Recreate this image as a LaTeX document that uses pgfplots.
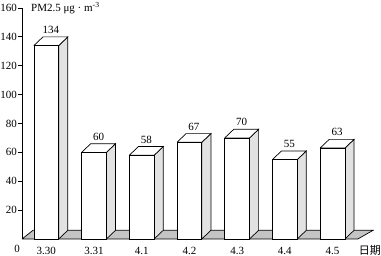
\documentclass[border=0pt]{standalone}
\usepackage{pgfplots}
\pgfplotsset{compat=1.18}
\usepackage{fontspec}
\setmainfont{Liberation Serif}
\newfontfamily\cjk{Noto Sans CJK SC}
\definecolor{floorc}{HTML}{C4C4C4}
\definecolor{sidec}{HTML}{E2E2E2}
\begin{document}
\begin{tikzpicture}
\useasboundingbox (0,0) rectangle (381pt,256pt);
\begin{axis}[
  at={(22pt,17pt)}, anchor=south west,
  scale only axis, width=353pt, height=231pt,
  xmin=-0.51, xmax=6.89, ymin=0, ymax=160,
  clip=false,
  axis y line*=left, axis x line*=bottom,
  x axis line style={draw=none},
  y axis line style={line width=0.8pt},
  xtick={0,...,6},
  xticklabels={3.30,3.31,4.1,4.2,4.3,4.4,4.5},
  xtick style={draw=none},
  ytick={20,40,...,160},
  tick align=outside, major tick length=4pt,
  ytick style={line width=0.8pt, black},
  /pgf/number format/assume math mode=true,
  tick label style={font=\fontsize{11}{12}\selectfont},
  yticklabel style={inner sep=1pt},
  xticklabel style={inner sep=0pt, yshift=-4pt},
  every axis plot/.append style={line width=0.7pt},
]
% floor
\addplot[fill=floorc, draw=black] coordinates {(-0.51,0) (6.53,0) (6.85,6) (-0.28,6) (-0.51,0)};
% side faces
\addplot[fill=sidec, draw=black] coordinates {(0.26,0) (0.45,6) (0.45,140) (0.26,134) (0.26,0)};
\addplot[fill=sidec, draw=black] coordinates {(1.26,0) (1.45,6) (1.45,66) (1.26,60) (1.26,0)};
\addplot[fill=sidec, draw=black] coordinates {(2.26,0) (2.45,6) (2.45,64) (2.26,58) (2.26,0)};
\addplot[fill=sidec, draw=black] coordinates {(3.26,0) (3.45,6) (3.45,73) (3.26,67) (3.26,0)};
\addplot[fill=sidec, draw=black] coordinates {(4.26,0) (4.45,6) (4.45,76) (4.26,70) (4.26,0)};
\addplot[fill=sidec, draw=black] coordinates {(5.26,0) (5.45,6) (5.45,61) (5.26,55) (5.26,0)};
\addplot[fill=sidec, draw=black] coordinates {(6.26,0) (6.45,6) (6.45,69) (6.26,63) (6.26,0)};
% top faces
\addplot[fill=white, draw=black] coordinates {(-0.26,134) (0.26,134) (0.45,140) (-0.07,140) (-0.26,134)};
\addplot[fill=white, draw=black] coordinates {(0.74,60) (1.26,60) (1.45,66) (0.93,66) (0.74,60)};
\addplot[fill=white, draw=black] coordinates {(1.74,58) (2.26,58) (2.45,64) (1.93,64) (1.74,58)};
\addplot[fill=white, draw=black] coordinates {(2.74,67) (3.26,67) (3.45,73) (2.93,73) (2.74,67)};
\addplot[fill=white, draw=black] coordinates {(3.74,70) (4.26,70) (4.45,76) (3.93,76) (3.74,70)};
\addplot[fill=white, draw=black] coordinates {(4.74,55) (5.26,55) (5.45,61) (4.93,61) (4.74,55)};
\addplot[fill=white, draw=black] coordinates {(5.74,63) (6.26,63) (6.45,69) (5.93,69) (5.74,63)};
% front faces
\addplot[ybar, bar width=0.52, fill=white, draw=black] coordinates {(0,134) (1,60) (2,58) (3,67) (4,70) (5,55) (6,63)};
% value labels
\addplot[only marks, mark=none, nodes near coords, point meta=explicit symbolic,
  nodes near coords style={font=\fontsize{11}{12}\selectfont, anchor=south, inner sep=3pt}]
  table[meta=l] {
x y l
0.095 140 134
1.095 66 60
2.095 64 58
3.095 73 67
4.095 76 70
5.095 61 55
6.095 69 63
};
\node[anchor=west, font=\fontsize{11}{12}\selectfont, inner sep=0pt] at (axis cs:-0.51,160) [xshift=9pt] {PM2.5 μg · m\textsuperscript{-3}};
\end{axis}
\node[font=\fontsize{11}{12}\selectfont, anchor=east, inner sep=0pt] at (381pt,6pt) {\cjk 日期};
\node[font=\fontsize{11}{12}\selectfont, inner sep=0pt] at (17pt,7pt) {0};
\end{tikzpicture}
\end{document}
